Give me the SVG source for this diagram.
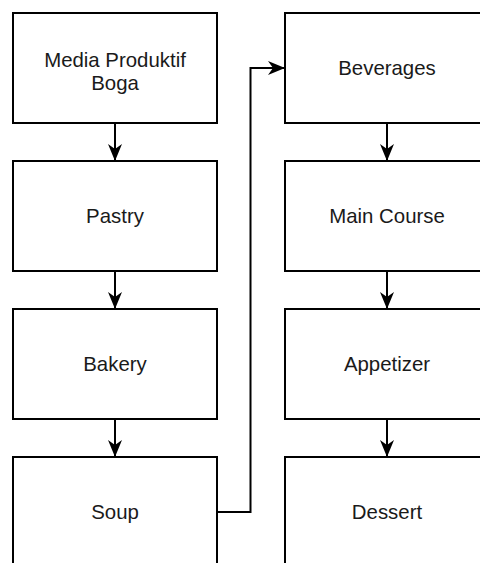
<svg xmlns="http://www.w3.org/2000/svg" width="480" height="563" viewBox="0 0 480 563">
<style>
.box{fill:#ffffff;stroke:#000000;stroke-width:2}
.lbl{font-family:"Liberation Sans",Arial,sans-serif;font-size:20.4px;fill:#1a1a1a;text-anchor:middle}
.edge{fill:none;stroke:#000000;stroke-width:2}
</style>
<defs>
<marker id="arr" markerUnits="userSpaceOnUse" markerWidth="20" markerHeight="16" viewBox="-18 -8 20 16" refX="0" refY="0" orient="auto">
<path d="M0,0 L-17,-7 L-12,0 L-17,7 Z" fill="#000000"/>
</marker>
</defs>
<rect width="480" height="563" fill="#ffffff"/>
<g id="connectors">
<path class="edge" d="M115,123 L115,161" marker-end="url(#arr)"/>
<path class="edge" d="M115,271 L115,309" marker-end="url(#arr)"/>
<path class="edge" d="M115,419 L115,457" marker-end="url(#arr)"/>
<path class="edge" d="M217,512 L250.5,512 L250.5,68 L285,68" marker-end="url(#arr)"/>
<path class="edge" d="M387,123 L387,161" marker-end="url(#arr)"/>
<path class="edge" d="M387,271 L387,309" marker-end="url(#arr)"/>
<path class="edge" d="M387,419 L387,457" marker-end="url(#arr)"/>
</g>
<g id="media">
<rect class="box" x="13" y="13" width="204" height="110"/>
<text class="lbl" x="115" y="67">Media Produktif</text>
<text class="lbl" x="115" y="90">Boga</text>
</g>
<g id="pastry">
<rect class="box" x="13" y="161" width="204" height="110"/>
<text class="lbl" x="115" y="223">Pastry</text>
</g>
<g id="bakery">
<rect class="box" x="13" y="309" width="204" height="110"/>
<text class="lbl" x="115" y="371">Bakery</text>
</g>
<g id="soup">
<rect class="box" x="13" y="457" width="204" height="110"/>
<text class="lbl" x="115" y="519">Soup</text>
</g>
<g id="beverages">
<rect class="box" x="285" y="13" width="204" height="110"/>
<text class="lbl" x="387" y="75">Beverages</text>
</g>
<g id="maincourse">
<rect class="box" x="285" y="161" width="204" height="110"/>
<text class="lbl" x="387" y="223">Main Course</text>
</g>
<g id="appetizer">
<rect class="box" x="285" y="309" width="204" height="110"/>
<text class="lbl" x="387" y="371">Appetizer</text>
</g>
<g id="dessert">
<rect class="box" x="285" y="457" width="204" height="110"/>
<text class="lbl" x="387" y="519">Dessert</text>
</g>
</svg>
